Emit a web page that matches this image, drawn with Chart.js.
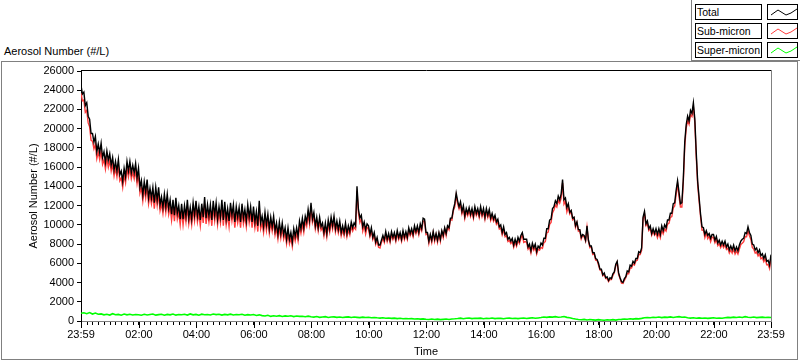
<!DOCTYPE html>
<html>
<head>
<meta charset="utf-8">
<script src="https://cdn.jsdelivr.net/npm/chart.js@4.4.1/dist/chart.umd.min.js"></script>
<style>
  html, body { margin: 0; padding: 0; background: #fff; }
  #wrap { position: relative; width: 800px; height: 361px; overflow: hidden; font-family: "Liberation Sans", Arial, sans-serif; }
  #frame { position: absolute; left: 1px; top: 61px; width: 797px; height: 299px; box-sizing: border-box; border: 1px solid #808080; }
  #legendArea { position: absolute; left: 691px; top: 0; width: 109px; height: 61px; box-sizing: border-box; border-left: 1px solid #808080; border-bottom: 1px solid #808080; }
  .lgLabel { position: absolute; left: 695px; width: 67px; height: 16px; box-sizing: border-box; border: 1px solid #000; background: #fff; font-size: 10.5px; line-height: 14px; padding-left: 1px; color: #000; white-space: nowrap; overflow: hidden; }
  .lgSample { position: absolute; left: 767px; width: 31px; height: 16px; box-sizing: border-box; border: 1px solid #000; background: #fff; }
  .lgSample svg { position: absolute; left: 0; top: 0; }
  #topLabel { position: absolute; left: 4px; top: 45px; font-size: 11px; line-height: 13px; color: #000; white-space: nowrap; }
  canvas { position: absolute; left: 0; top: 0; }
</style>
</head>
<body>
<div id="wrap">
  <div id="frame"></div>
  <div id="legendArea"></div>
  <div id="topLabel"></div>
  <div id="legend"></div>
  <canvas id="c" width="800" height="361"></canvas>
</div>
<script>
// ---------------- DATA ----------------
const seriesNames = ['Total', 'Sub-micron', 'Super-micron'];
const fineStepMinutes = 3;            // Total & Sub-micron: one reading every 3 min from 23:59
const superStepMinutes = 6;           // Super-micron: one reading every 6 min from 23:59
const axisMaxMinutes = 1440;          // 23:59 -> 23:59 next day
const majorTickMinutes = [0, 121, 241, 361, 481, 601, 721, 841, 961, 1081, 1201, 1321, 1440];
const majorTickLabels = ['23:59', '02:00', '04:00', '06:00', '08:00', '10:00', '12:00', '14:00', '16:00', '18:00', '20:00', '22:00', '23:59'];
const yMin = 0, yMax = 26000, yStep = 2000;
const yTitle = 'Aerosol Number (#/L)';
const xTitle = 'Time';

const total = [
24500, 23600, 23800, 22400, 22700, 21300, 21000, 19500, 19500, 18600,
19200, 17600, 18400, 17500, 18500, 17000, 17600, 16500, 17700, 16700,
17400, 16200, 17000, 15700, 16600, 15600, 16800, 15200, 15600, 14500,
15900, 15000, 16600, 15600, 16600, 15400, 16200, 15400, 16400, 14900,
15900, 13900, 14600, 13100, 14500, 13400, 14700, 12800, 13800, 12800,
13900, 12300, 13900, 12600, 13900, 12100, 12900, 11800, 13200, 11900,
13200, 11700, 12600, 11100, 12600, 11000, 12800, 11200, 12000, 10600,
12200, 10600, 12000, 10900, 12600, 10700, 11800, 10600, 12300, 11000,
12500, 10900, 11900, 10500, 12200, 10800, 12900, 10700, 12100, 10900,
12100, 10500, 12500, 11000, 12300, 10600, 11900, 10800, 12600, 10500,
12400, 10600, 11700, 10400, 12300, 11000, 12100, 10300, 11900, 10800,
11800, 10300, 12200, 10700, 11600, 10400, 12100, 10800, 11900, 10300,
11900, 10300, 11400, 9900, 12500, 10200, 10900, 9800, 11300, 10000,
11100, 9600, 10800, 9800, 10900, 9400, 10200, 9000, 10300, 9100,
10200, 9000, 9700, 8500, 9700, 8500, 9200, 8200, 9600, 8800,
9700, 8800, 10400, 9600, 10700, 9700, 10900, 10300, 11600, 10500,
12300, 10600, 11300, 9900, 10800, 9700, 10800, 9800, 10200, 9200,
10200, 9100, 10500, 9600, 10800, 9900, 10900, 9600, 10400, 9500,
10400, 9200, 9900, 9200, 10200, 9100, 9900, 9300, 10300, 9700,
10200, 9900, 14000, 11600, 10700, 11000, 9800, 10300, 9500, 10100,
9900, 9000, 9700, 8700, 9200, 8200, 8700, 7900, 7900, 8400,
8900, 8400, 9300, 8500, 9100, 8400, 9300, 8700, 9200, 8500,
9400, 8700, 9200, 8500, 9400, 8700, 9300, 8700, 9700, 9100,
9600, 9000, 9900, 9300, 9900, 9200, 10100, 9600, 10700, 10600,
9200, 9200, 8300, 9000, 8400, 9300, 8500, 9100, 8400, 9200,
8500, 9400, 8900, 9700, 9100, 9900, 9700, 10700, 10700, 11600,
12200, 13300, 12500, 11900, 12400, 11400, 12000, 10900, 11700, 11200,
11800, 11100, 11700, 10900, 11900, 11200, 11700, 11000, 11900, 11100,
11700, 10800, 11700, 11000, 11600, 10700, 11200, 10600, 11000, 10300,
10600, 9800, 10000, 9200, 9800, 9000, 9200, 8500, 8700, 8300,
8600, 7900, 8500, 8000, 8700, 8300, 8900, 9200, 8500, 8500,
8500, 7700, 8000, 7300, 8100, 7600, 8000, 7200, 7800, 7600,
8100, 7900, 8600, 8600, 9600, 9600, 10500, 10600, 11700, 11900,
12500, 12200, 13000, 12600, 13200, 14700, 12600, 12800, 11800, 12200,
11300, 11500, 10700, 10800, 9900, 10300, 9500, 9500, 8700, 9000,
8900, 8400, 9900, 8400, 7800, 7800, 7100, 7100, 6500, 6400,
6000, 5400, 5400, 4800, 5000, 4500, 4600, 4200, 4500, 4400,
4900, 5100, 5900, 6200, 5000, 4500, 4100, 4000, 4400, 4600,
5200, 5100, 5800, 5700, 6200, 6000, 6500, 6500, 7200, 7100,
7600, 10800, 11400, 10100, 10400, 9600, 9900, 9100, 9600, 9100,
9600, 9000, 9600, 9000, 9900, 9400, 10000, 9700, 10500, 10500,
11200, 11200, 12200, 12300, 13600, 14600, 13400, 12200, 12300, 14800,
18600, 20400, 21300, 20800, 21900, 21600, 22700, 21000, 17500, 14500,
12800, 11100, 9800, 9700, 9000, 9400, 8900, 9100, 8600, 9000,
9000, 8400, 8800, 8100, 8400, 7900, 8300, 7900, 8300, 7700,
8000, 7400, 7800, 7400, 7900, 7300, 7700, 7300, 7900, 8300,
8500, 8600, 9200, 9100, 9800, 9200, 8900, 8000, 7900, 7400,
7600, 7100, 7400, 6800, 7000, 6500, 6900, 6200, 6300, 5800, 6900
];

const subMicron = [
23700, 22900, 23000, 21700, 21900, 20600, 20200, 18800, 18700, 17900,
18400, 16900, 17600, 16800, 17700, 16300, 16800, 15800, 16900, 16000,
16690, 15590, 16290, 15090, 15890, 14990, 16090, 14590, 14890, 13890,
15190, 14390, 15890, 14990, 15890, 14790, 15490, 14790, 15690, 14290,
15190, 13290, 13890, 12490, 13790, 12790, 13990, 12190, 13090, 12190,
13190, 11690, 13190, 11990, 13190, 11490, 12190, 11190, 12490, 11290,
12490, 11090, 11890, 10490, 11890, 10390, 12090, 10590, 11290, 9990,
11500, 10000, 11300, 10300, 11900, 10100, 11100, 10000, 11600, 10400,
11800, 10300, 11200, 9900, 11500, 10200, 12200, 10100, 11400, 10300,
11400, 9900, 11800, 10400, 11600, 10000, 11200, 10200, 11900, 9900,
11700, 10000, 11000, 9800, 11600, 10400, 11400, 9700, 11200, 10200,
11100, 9700, 11500, 10100, 10900, 9800, 11400, 10200, 11200, 9700,
11200, 9700, 10700, 9300, 11800, 9600, 10200, 9200, 10600, 9400,
10530, 9130, 10230, 9330, 10330, 8930, 9630, 8530, 9730, 8630,
9630, 8530, 9130, 8030, 9130, 8030, 8630, 7730, 9030, 8330,
9130, 8330, 9830, 9130, 10130, 9230, 10330, 9830, 11030, 10030,
11850, 10250, 10850, 9550, 10350, 9350, 10350, 9450, 9750, 8850,
9750, 8750, 10050, 9250, 10350, 9550, 10450, 9250, 9950, 9150,
9950, 8850, 9450, 8850, 9750, 8750, 9450, 8950, 9850, 9350,
9750, 9550, 13550, 11250, 10250, 10650, 9350, 9950, 9050, 9750,
9590, 8770, 9390, 8470, 8890, 7970, 8390, 7670, 7590, 8170,
8590, 8170, 8990, 8270, 8790, 8170, 8990, 8470, 8890, 8270,
9090, 8470, 8890, 8270, 9090, 8470, 8990, 8470, 9390, 8870,
9290, 8770, 9590, 9070, 9590, 8970, 9790, 9370, 10390, 10370,
8980, 9060, 8080, 8860, 8180, 9160, 8280, 8960, 8180, 9060,
8280, 9260, 8680, 9560, 8880, 9760, 9480, 10560, 10480, 11460,
11880, 13060, 12180, 11660, 12080, 11160, 11680, 10660, 11380, 10960,
11480, 10860, 11380, 10660, 11580, 10960, 11380, 10760, 11580, 10860,
11380, 10560, 11380, 10760, 11280, 10460, 10880, 10360, 10680, 10060,
10280, 9560, 9680, 8960, 9480, 8760, 8880, 8260, 8380, 8060,
8280, 7660, 8180, 7760, 8380, 8060, 8580, 8960, 8180, 8260,
8180, 7460, 7680, 7060, 7780, 7360, 7680, 6960, 7480, 7360,
7650, 7550, 8150, 8250, 9150, 9250, 10050, 10250, 11250, 11550,
12050, 11850, 12550, 12250, 12750, 14350, 12150, 12450, 11350, 11850,
11130, 11410, 10530, 10710, 9730, 10210, 9330, 9410, 8530, 8910,
8730, 8310, 9730, 8310, 7630, 7710, 6930, 7010, 6330, 6310,
5830, 5310, 5230, 4710, 4830, 4410, 4430, 4110, 4330, 4310,
4730, 5010, 5730, 6110, 4830, 4410, 3930, 3910, 4230, 4510,
4940, 4920, 5540, 5520, 5940, 5820, 6240, 6320, 6940, 6920,
7340, 10620, 11140, 9920, 10140, 9420, 9640, 8920, 9340, 8920,
9160, 8660, 9160, 8660, 9460, 9060, 9560, 9360, 10060, 10160,
10760, 10860, 11760, 11960, 13160, 14260, 12960, 11860, 11860, 14460,
18160, 20060, 20860, 20460, 21460, 21260, 22260, 20660, 17060, 14160,
12460, 10840, 9460, 9440, 8660, 9140, 8560, 8840, 8260, 8740,
8660, 8140, 8460, 7840, 8060, 7640, 7960, 7640, 7960, 7440,
7580, 7060, 7380, 7060, 7480, 6960, 7280, 6960, 7480, 7960,
8080, 8260, 8780, 8760, 9380, 8860, 8480, 7660, 7480, 7060,
7180, 6760, 6980, 6460, 6580, 6160, 6480, 5860, 5880, 5460, 6530
];

const superMicron = [
800, 850, 760, 880, 720, 820, 700, 740, 640, 700,
620, 760, 650, 690, 600, 720, 640, 700, 620, 680,
650, 600, 700, 620, 680, 720, 610, 660, 700, 600,
690, 640, 720, 610, 680, 650, 700, 620, 740, 640,
690, 600, 710, 650, 680, 620, 720, 660, 700, 610,
690, 640, 710, 620, 680, 650, 700, 600, 660, 620,
680, 580, 640, 560, 520, 600, 480, 540, 500, 560,
470, 530, 490, 550, 460, 520, 480, 500, 450, 510,
440, 400, 460, 380, 420, 450, 370, 410, 430, 380,
420, 360, 400, 430, 370, 410, 380, 350, 400, 360,
390, 340, 370, 330, 300, 340, 280, 310, 270, 300,
250, 280, 240, 260, 230, 250, 210, 240, 200, 220,
180, 150, 200, 160, 190, 140, 170, 200, 160, 210,
230, 260, 300, 240, 280, 310, 250, 290, 270, 300,
240, 280, 260, 310, 250, 290, 270, 240, 280, 300,
260, 290, 250, 280, 310, 260, 300, 330, 280, 320,
360, 410, 380, 430, 400, 450, 390, 420, 460, 380,
330, 260, 200, 160, 130, 170, 110, 150, 120, 90,
140, 110, 80, 130, 100, 140, 90, 150, 170, 210,
180, 230, 200, 250, 220, 270, 330, 370, 340, 390,
360, 410, 350, 400, 380, 430, 360, 410, 450, 390,
420, 340, 300, 330, 280, 320, 290, 310, 270, 300,
330, 280, 310, 290, 340, 380, 350, 400, 360, 420,
370, 450, 390, 360, 410, 350, 380, 400, 360, 390, 370
];

// ---------------- STYLE ----------------
const seriesColors = ['#000000', '#ff3c3c', '#00ff00'];
const seriesWidths = [1.4, 1.4, 1.6];
const minorTickEvery = 12; // minutes

// ---------------- LEGEND / LABELS (HTML text) ----------------
document.getElementById('topLabel').textContent = yTitle;
const legendEl = document.getElementById('legend');
const rowTops = [4, 23, 42];
seriesNames.forEach((name, k) => {
  const lab = document.createElement('div');
  lab.className = 'lgLabel';
  lab.style.top = rowTops[k] + 'px';
  lab.textContent = name;
  legendEl.appendChild(lab);
  const s = document.createElement('div');
  s.className = 'lgSample';
  s.style.top = rowTops[k] + 'px';
  s.innerHTML = '<svg width="31" height="16"><polyline points="3,10 10,5 18,10 23,8 29,4" fill="none" stroke="' + seriesColors[k] + '" stroke-width="1"/></svg>';
  legendEl.appendChild(s);
});

// ---------------- CHART ----------------
Chart.defaults.font.family = '"Liberation Sans", Arial, sans-serif';
Chart.defaults.font.size = 11;
Chart.defaults.color = '#000';

const toXY = (arr, step) => arr.map((v, i) => ({ x: i * step, y: v }));

const plotFrame = {
  id: 'plotFrame',
  afterDraw(chart) {
    const { ctx, chartArea: a } = chart;
    const xs = chart.scales.x;
    ctx.save();
    ctx.lineWidth = 1;
    ctx.strokeStyle = '#000';
    ctx.beginPath();
    ctx.moveTo(a.left, Math.round(a.top) - 0.5);
    ctx.lineTo(a.right + 1, Math.round(a.top) - 0.5);
    ctx.stroke();
    ctx.strokeStyle = '#808080';
    ctx.beginPath();
    ctx.moveTo(Math.round(a.right) + 0.5, a.top - 1);
    ctx.lineTo(Math.round(a.right) + 0.5, a.bottom + 1);
    ctx.stroke();
    // longer major ticks
    ctx.strokeStyle = '#000';
    majorTickMinutes.forEach(m => {
      const px = Math.round(xs.getPixelForValue(m)) + 0.5;
      ctx.beginPath();
      ctx.moveTo(px, a.bottom + 1);
      ctx.lineTo(px, a.bottom + 7);
      ctx.stroke();
    });
    ctx.restore();
  }
};

new Chart(document.getElementById('c'), {
  type: 'line',
  data: {
    datasets: [
      { label: seriesNames[0], data: toXY(total, fineStepMinutes), borderColor: seriesColors[0], borderWidth: seriesWidths[0], pointRadius: 0, tension: 0, fill: false },
      { label: seriesNames[1], data: toXY(subMicron, fineStepMinutes), borderColor: seriesColors[1], borderWidth: seriesWidths[1], pointRadius: 0, tension: 0, fill: false },
      { label: seriesNames[2], data: toXY(superMicron, superStepMinutes), borderColor: seriesColors[2], borderWidth: seriesWidths[2], pointRadius: 0, tension: 0, fill: false }
    ]
  },
  options: {
    responsive: false,
    animation: false,
    events: [],
    layout: { padding: { top: 71, right: 29, left: 0, bottom: 0 } },
    plugins: { legend: { display: false }, tooltip: { enabled: false }, title: { display: false } },
    scales: {
      x: {
        type: 'linear',
        min: 0,
        max: axisMaxMinutes,
        afterBuildTicks: (scale) => {
          const vals = [0];
          for (let m = 1; m < axisMaxMinutes; m += minorTickEvery) vals.push(m);
          vals.push(axisMaxMinutes);
          scale.ticks = vals.map(v => ({ value: v }));
        },
        afterFit: (scale) => { scale.height = 40; },
        ticks: {
          autoSkip: false,
          maxRotation: 0,
          minRotation: 0,
          padding: 3,
          color: '#000',
          callback: (value) => {
            const k = majorTickMinutes.indexOf(value);
            return k >= 0 ? majorTickLabels[k] : '';
          }
        },
        grid: { display: true, drawOnChartArea: false, drawTicks: true, tickLength: 4, color: '#000' },
        border: { display: true, color: '#808080', width: 1 },
        title: { display: true, text: xTitle, color: '#000', font: { size: 11 }, padding: { top: 0, bottom: 2 } }
      },
      y: {
        type: 'linear',
        min: yMin,
        max: yMax,
        afterFit: (scale) => { scale.width = 81; },
        ticks: { stepSize: yStep, autoSkip: false, padding: 3, color: '#000', callback: (v) => String(v) },
        grid: { display: true, drawOnChartArea: false, drawTicks: true, tickLength: 4, color: '#000' },
        border: { display: true, color: '#000', width: 1 },
        title: { display: true, text: yTitle, color: '#000', font: { size: 11 }, padding: { top: 27, bottom: 0 } }
      }
    }
  },
  plugins: [plotFrame]
});
</script>
</body>
</html>
